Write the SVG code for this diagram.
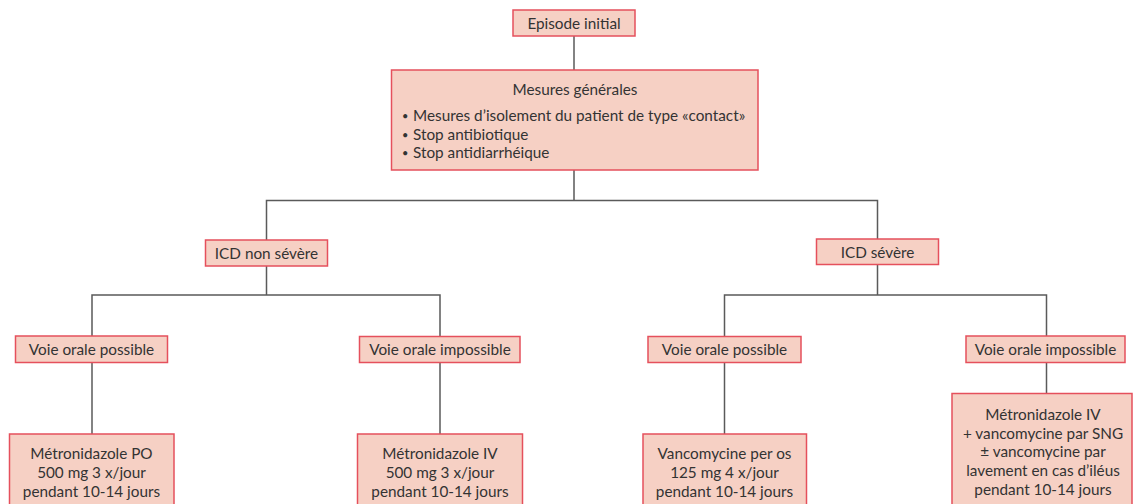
<svg xmlns="http://www.w3.org/2000/svg" width="1134" height="504" viewBox="0 0 1134 504">
  <style>
    .box { fill: #f6d0c4; stroke: #e5505c; stroke-width: 1.5; }
    .lbl { font-family: Lato, "Liberation Sans", sans-serif; font-size: 15.3px; fill: #333333; text-anchor: middle; }
    .lft { text-anchor: start; }
    .dot { font-size: 11px; }
    .wire { fill: none; stroke: #5a5a5a; stroke-width: 1.5; }
  </style>
  <rect width="1134" height="504" fill="#ffffff"/>

  <!-- connectors -->
  <g id="connectors" class="wire">
    <path d="M574 36 V70"/>
    <path d="M574 170 V200.5 M266.5 240 V200.5 H877.5 V239"/>
    <path d="M266.5 266 V295 M92 336 V295 H440 V336.5"/>
    <path d="M877.5 264.5 V295 M724.5 336.5 V295 H1046.5 V336"/>
    <path d="M92 362.5 V434"/>
    <path d="M440 362.5 V434"/>
    <path d="M724.5 362.5 V434"/>
    <path d="M1046.5 362.5 V393.5"/>
  </g>

  <g id="episode">
    <rect class="box" x="513" y="10" width="122" height="26"/>
    <text class="lbl" x="574" y="28.5">Episode initial</text>
  </g>

  <g id="mesures">
    <rect class="box" x="391.5" y="70" width="366.5" height="100"/>
    <text class="lbl" x="575" y="95">Mesures générales</text>
    <text class="lbl lft dot" x="402" y="120">•</text>
    <text class="lbl lft dot" x="402" y="138.5">•</text>
    <text class="lbl lft dot" x="402" y="157">•</text>
    <text class="lbl lft" x="413" y="121">Mesures d’isolement du patient de type «contact»</text>
    <text class="lbl lft" x="413" y="139.5">Stop antibiotique</text>
    <text class="lbl lft" x="413" y="158">Stop antidiarrhéique</text>
  </g>

  <g id="non-severe">
    <rect class="box" x="205.5" y="240" width="122" height="26"/>
    <text class="lbl" x="266.5" y="258.5">ICD non sévère</text>
  </g>

  <g id="severe">
    <rect class="box" x="816.5" y="239" width="122" height="25.5"/>
    <text class="lbl" x="877.5" y="257.5">ICD sévère</text>
  </g>

  <g id="ns-oral">
    <rect class="box" x="15.5" y="336" width="152" height="26.5"/>
    <text class="lbl" x="91.5" y="355">Voie orale possible</text>
  </g>

  <g id="ns-no-oral">
    <rect class="box" x="359.5" y="336.5" width="160.5" height="26"/>
    <text class="lbl" x="440" y="355">Voie orale impossible</text>
  </g>

  <g id="s-oral">
    <rect class="box" x="648" y="336.5" width="153" height="26"/>
    <text class="lbl" x="724.5" y="355">Voie orale possible</text>
  </g>

  <g id="s-no-oral">
    <rect class="box" x="966" y="336" width="159" height="26.5"/>
    <text class="lbl" x="1045.5" y="355">Voie orale impossible</text>
  </g>

  <g id="metro-po">
    <rect class="box" x="9.5" y="434" width="164.5" height="90"/>
    <text class="lbl" x="91.5" y="458.5">Métronidazole PO</text>
    <text class="lbl" x="91.5" y="477.5">500 mg 3 x/jour</text>
    <text class="lbl" x="91.5" y="496.5">pendant 10-14 jours</text>
  </g>

  <g id="metro-iv">
    <rect class="box" x="357.5" y="434" width="165" height="90"/>
    <text class="lbl" x="440" y="458.5">Métronidazole IV</text>
    <text class="lbl" x="440" y="477.5">500 mg 3 x/jour</text>
    <text class="lbl" x="440" y="496.5">pendant 10-14 jours</text>
  </g>

  <g id="vanco-po">
    <rect class="box" x="643" y="434" width="163.5" height="90"/>
    <text class="lbl" x="724.5" y="458.5">Vancomycine per os</text>
    <text class="lbl" x="724.5" y="477.5">125 mg 4 x/jour</text>
    <text class="lbl" x="724.5" y="496.5">pendant 10-14 jours</text>
  </g>

  <g id="metro-iv-vanco">
    <rect class="box" x="952" y="393.5" width="180" height="130"/>
    <text class="lbl" x="1043" y="419.5">Métronidazole IV</text>
    <text class="lbl" x="1043" y="438.5">+ vancomycine par SNG</text>
    <text class="lbl" x="1043" y="457">± vancomycine par</text>
    <text class="lbl" x="1043" y="476">lavement en cas d’iléus</text>
    <text class="lbl" x="1043" y="495">pendant 10-14 jours</text>
  </g>
</svg>
